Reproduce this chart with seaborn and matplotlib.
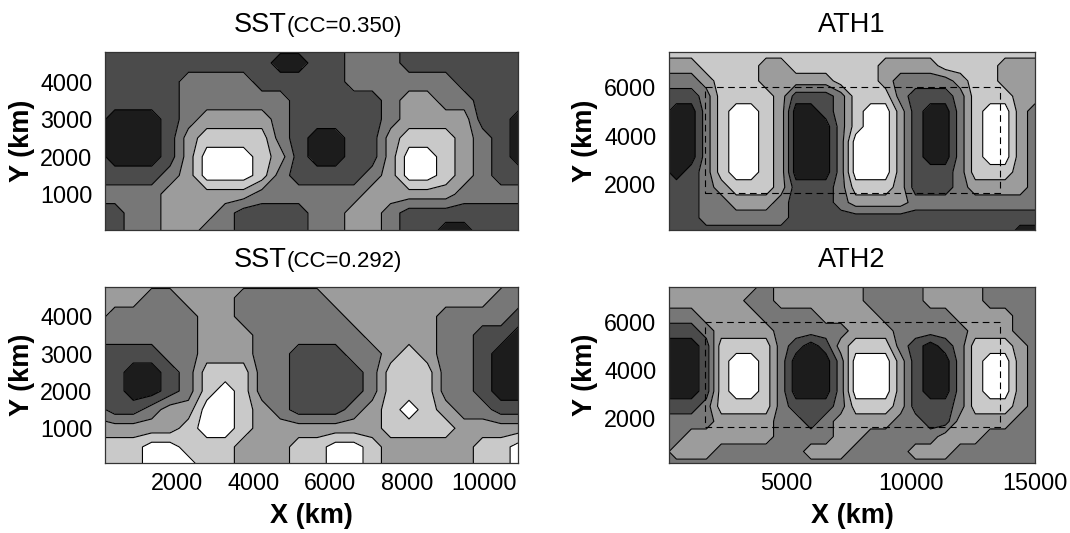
import numpy as np
import matplotlib
matplotlib.use("Agg")
import matplotlib.pyplot as plt
import seaborn as sns

# classes de cinzento: 0 = preto ... 5 = branco
CINZAS = ["#1c1c1c", "#4b4b4b", "#777777", "#9c9c9c", "#c9c9c9", "#ffffff"]

# grelhas em km (SST a esquerda, ATH a direita)
SST_X = np.arange(24) * 480.0 - 110
SST_Y = np.arange(11) * 500.0
ATH_X = np.arange(26) * 600.0
ATH_Y = np.arange(13) * 625.0

# linhas de cima para baixo, um digito por celula
SST1 = [
    "111111111111112221111111",
    "111111111100112221111111",
    "111112222111112222221111",
    "111112222221111123322111",
    "100012333321111123333110",
    "100013444421001134443210",
    "100013555431001135543210",
    "111123555421111235543211",
    "222233333222222333332222",
    "112233321111223321111111",
    "112233221111223321100111",
]
SST2 = [
    "433333333333333333333332",
    "333223332222233333333322",
    "322222332222223333322221",
    "222222333222222333322110",
    "111122333221112234322100",
    "110012444221111244422100",
    "110012454221111244422100",
    "211233554321112345432211",
    "333334554333333344443333",
    "444554443334455433333445",
    "344555443334455433333445",
]
ATH1 = [
    "44444444444444444444444444",
    "33344443344444433334444333",
    "22234443333344432222344333",
    "11124444311124442111244433",
    "10024554300124553100245532",
    "10024554300024553100245532",
    "10024554300025553100245532",
    "10024554300025553100245532",
    "10124554300025553111244432",
    "11123444311124443111233332",
    "11122333211123333222222222",
    "11122222211111111111111111",
    "11111111111111111111111100",
]
ATH2 = [
    "33333332333333222233332222",
    "33333322333333222233332222",
    "22233332222333322222333322",
    "11123333222223332222233322",
    "00014444210134442101244432",
    "00014554200025553100245532",
    "00014554200025553100245532",
    "00014554200025553100245532",
    "11124444211124443111244432",
    "22223333221233332211333322",
    "22333333222233222223332222",
    "23332222223332222333222222",
    "22222222222222222222222222",
]

# caixa tracejada nos paineis ATH (km)
CAIXA_X = [1750, 13600]
CAIXA_Y = [1625, 6000]

SST_TICKS_X = [2000, 4000, 6000, 8000, 10000]
SST_TICKS_Y = [1000, 2000, 3000, 4000]
ATH_TICKS_X = [5000, 10000, 15000]
ATH_TICKS_Y = [2000, 4000, 6000]


def grelha(linhas):
    return np.array([[int(c) for c in l] for l in linhas[::-1]], dtype=float)


sns.set_theme(style="white")
plt.rcParams["font.family"] = ["Liberation Sans", "DejaVu Sans"]
plt.rcParams["text.color"] = "black"
plt.rcParams["axes.labelcolor"] = "black"
plt.rcParams["xtick.color"] = "black"
plt.rcParams["ytick.color"] = "black"

fig = plt.figure(figsize=(10.7, 5.33), dpi=100)
W, H = 1070.0, 533.0
ax_tl = fig.add_axes([105 / W, 1 - 229.5 / H, 413 / W, 178 / H])
ax_bl = fig.add_axes([105 / W, 1 - 463.3 / H, 413 / W, 176.8 / H])
ax_tr = fig.add_axes([669 / W, 1 - 229.5 / H, 366 / W, 178 / H])
ax_br = fig.add_axes([669 / W, 1 - 463.3 / H, 366 / W, 176.8 / H])

niveis = np.arange(-0.5, 6.0, 1.0)


def painel(ax, x, y, linhas, xlim, ylim):
    z = grelha(linhas)
    ax.contourf(x, y, z, levels=niveis, colors=CINZAS)
    ax.contour(x, y, z, levels=niveis[1:-1], colors="black", linewidths=0.8)
    ax.set_xlim(*xlim)
    ax.set_ylim(*ylim)
    for s in ax.spines.values():
        s.set_color("#333333")
        s.set_linewidth(0.9)
    ax.tick_params(length=0, labelsize=16.8, colors="black")
    ax.tick_params(axis="x", pad=6.5)
    ax.tick_params(axis="y", pad=9)


painel(ax_tl, SST_X, SST_Y, SST1, (112, 10896), (60, 4804))
painel(ax_bl, SST_X, SST_Y, SST2, (112, 10896), (60, 4804))
painel(ax_tr, ATH_X, ATH_Y, ATH1, (300, 15000), (140, 7460))
painel(ax_br, ATH_X, ATH_Y, ATH2, (300, 15000), (140, 7460))

for ax in (ax_tl, ax_bl):
    ax.set_yticks(SST_TICKS_Y)
    ax.set_xticks(SST_TICKS_X)
for ax in (ax_tr, ax_br):
    ax.set_yticks(ATH_TICKS_Y)
    ax.set_xticks(ATH_TICKS_X)
    ax.plot([CAIXA_X[0], CAIXA_X[1], CAIXA_X[1], CAIXA_X[0], CAIXA_X[0]],
            [CAIXA_Y[0], CAIXA_Y[0], CAIXA_Y[1], CAIXA_Y[1], CAIXA_Y[0]],
            color="black", linewidth=0.8, linestyle=(0, (6, 4)))
ax_tl.tick_params(labelbottom=False)
ax_tr.tick_params(labelbottom=False)

for ax, xl in ((ax_tl, -0.2), (ax_bl, -0.2), (ax_tr, -0.23), (ax_br, -0.23)):
    ax.set_ylabel("Y (km)", fontsize=19.5, fontweight="bold", va="center")
    ax.yaxis.set_label_coords(xl, 0.5)
for ax in (ax_bl, ax_br):
    ax.set_xlabel("X (km)", fontsize=19.5, fontweight="bold", va="center")
    ax.xaxis.set_label_coords(0.5, -0.30)


def titulo(ax, principal, extra=None, dx_px=0.0):
    y = 1.108
    t1 = ax.text(0.5, y, principal, transform=ax.transAxes, fontsize=19.5,
                 ha="left", va="baseline", color="black")
    t2 = None
    if extra:
        t2 = ax.text(0.5, y, extra, transform=ax.transAxes, fontsize=16,
                     ha="left", va="baseline", color="black")
    fig.canvas.draw()
    r = fig.canvas.get_renderer()
    w1 = t1.get_window_extent(r).width
    w2 = t2.get_window_extent(r).width if t2 else 0.0
    axw = ax.get_window_extent(r).width
    ini = 0.5 + (dx_px - (w1 + w2) / 2) / axw
    t1.set_x(ini)
    if t2:
        t2.set_x(ini + w1 / axw)


titulo(ax_tl, "SST", "(CC=0.350)", dx_px=6)
titulo(ax_bl, "SST", "(CC=0.292)", dx_px=6)
titulo(ax_tr, "ATH1")
titulo(ax_br, "ATH2")

fig.savefig("out.png", dpi=100, facecolor="white")
plt.close(fig)
